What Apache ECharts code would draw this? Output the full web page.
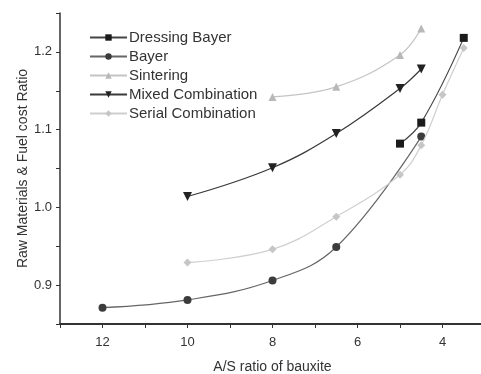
<!DOCTYPE html>
<html>
<head>
<meta charset="utf-8">
<script src="https://cdn.jsdelivr.net/npm/echarts@6/dist/echarts.min.js"></script>
<style>html,body{margin:0;padding:0;background:#fff}#c{width:481px;height:374px}</style>
</head>
<body>
<div id="c"></div>
<script>
const seriesNames = ['Dressing Bayer', 'Bayer', 'Sintering', 'Mixed Combination', 'Serial Combination'];
const dressingX = [5, 4.5, 3.5];
const dressingY = [1.082, 1.109, 1.218];
const bayerX = [12, 10, 8, 6.5, 4.5];
const bayerY = [0.871, 0.881, 0.906, 0.949, 1.091];
const sinteringX = [8, 6.5, 5, 4.5];
const sinteringY = [1.142, 1.155, 1.196, 1.230];
const mixedX = [10, 8, 6.5, 5, 4.5];
const mixedY = [1.014, 1.051, 1.095, 1.153, 1.178];
const serialX = [10, 8, 6.5, 5, 4.5, 4, 3.5];
const serialY = [0.929, 0.946, 0.988, 1.042, 1.080, 1.145, 1.205];
const xTickLabels = [12, 10, 8, 6, 4];
const yTickLabels = [0.9, 1.0, 1.1, 1.2];

const pairs = (xs, ys) => xs.map((x, i) => [x, ys[i]]);
const FONT = '"Liberation Sans", Arial, sans-serif';
const downTri = 'path://M0,0 L10,0 L5,9 Z';

const styles = [
  {symbol: 'rect', line: '#444', mark: '#1b1b1b', size: 8},
  {symbol: 'circle', line: '#666', mark: '#3c3c3c', size: 8},
  {symbol: 'triangle', line: '#c4c4c4', mark: '#b8b8b8', size: 8},
  {symbol: downTri, line: '#3a3a3a', mark: '#222', size: 9},
  {symbol: 'diamond', line: '#cfcfcf', mark: '#c6c6c6', size: 8}
];
const datasets = [
  pairs(dressingX, dressingY),
  pairs(bayerX, bayerY),
  pairs(sinteringX, sinteringY),
  pairs(mixedX, mixedY),
  pairs(serialX, serialY)
];

const chart = echarts.init(document.getElementById('c'), null, {renderer: 'canvas'});
chart.setOption({
  backgroundColor: '#fff',
  animation: false,
  grid: {left: 60, right: -4, top: 13, bottom: 50, containLabel: false, outerBoundsMode: 'none'},
  legend: {
    orient: 'vertical', left: 89, top: 30, padding: 0,
    itemWidth: 37, itemHeight: 8, itemGap: 4,
    textStyle: {fontFamily: FONT, fontSize: 15, color: '#333', padding: [0, 0, 0, -3]},
    data: seriesNames
  },
  xAxis: {
    type: 'value', inverse: true, min: 3, max: 13, interval: 1,
    name: 'A/S ratio of bauxite', nameLocation: 'middle', nameGap: 36,
    nameTextStyle: {fontFamily: FONT, fontSize: 14, color: '#333'},
    axisLine: {show: true, lineStyle: {color: '#333', width: 2}},
    axisTick: {show: true, inside: false, length: 4, lineStyle: {color: '#333'}},
    axisLabel: {fontFamily: FONT, fontSize: 13, color: '#333', margin: 12,
      formatter: v => xTickLabels.indexOf(v) >= 0 ? String(v) : ''},
    splitLine: {show: false}
  },
  yAxis: {
    type: 'value', min: 0.85, max: 1.25, interval: 0.05,
    name: 'Raw Materials & Fuel cost Ratio', nameLocation: 'middle', nameGap: 30,
    nameMoveOverlap: false,
    nameTextStyle: {fontFamily: FONT, fontSize: 14, color: '#333'},
    axisLine: {show: true, lineStyle: {color: '#333', width: 1.5}},
    axisTick: {show: true, inside: false, length: 4, lineStyle: {color: '#333'}},
    axisLabel: {fontFamily: FONT, fontSize: 13, color: '#333', margin: 8,
      formatter: v => {
        const r = Math.round(v * 100) / 100;
        return yTickLabels.some(t => Math.abs(t - r) < 1e-6) ? r.toFixed(1) : '';
      }},
    splitLine: {show: false}
  },
  series: seriesNames.map((n, i) => ({
    name: n, type: 'line', smooth: 0.4,
    data: datasets[i],
    symbol: styles[i].symbol, symbolSize: styles[i].size,
    showAllSymbol: true,
    lineStyle: {color: styles[i].line, width: 1.2},
    itemStyle: {color: styles[i].mark},
    z: i === 4 ? 3 : 2
  }))
});
</script>
</body>
</html>
